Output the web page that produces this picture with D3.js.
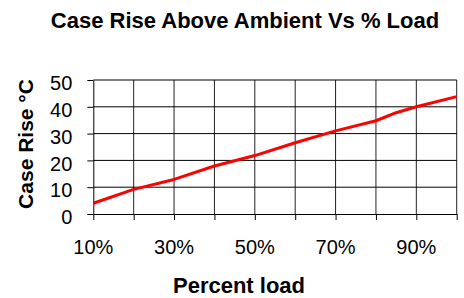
<!DOCTYPE html>
<html>
<head>
<meta charset="utf-8">
<script src="https://cdn.jsdelivr.net/npm/d3@7"></script>
<style>
  body { margin: 0; background: #fff; }
  svg { font-family: "Liberation Sans", Arial, sans-serif; }
</style>
</head>
<body>
<div id="chart"></div>
<script>
// percent load vs case rise above ambient
const loads = [10, 20, 30, 40, 50, 60, 70, 80, 85, 90, 100];
const caseRise = [4.0, 9.2, 12.9, 17.9, 21.8, 26.6, 31.0, 34.8, 37.8, 40.0, 43.8];
const xTicks = [10, 20, 30, 40, 50, 60, 70, 80, 90, 100];
const xLabels = [10, 30, 50, 70, 90];
const yTicks = [0, 10, 20, 30, 40, 50];

const width = 464, height = 298;
const margin = {top: 80, right: 7.3, bottom: 84, left: 93.3};

const svg = d3.select("#chart").append("svg")
  .attr("width", width)
  .attr("height", height);

const x = d3.scaleLinear().domain([10, 100]).range([margin.left, width - margin.right]);
const y = d3.scaleLinear().domain([0, 50]).range([height - margin.bottom, margin.top]);

// grid lines
svg.append("g")
  .selectAll("line")
  .data(xTicks.slice(1))
  .join("line")
    .attr("x1", d => x(d)).attr("x2", d => x(d))
    .attr("y1", y(0)).attr("y2", y(50))
    .attr("stroke", "#222").attr("stroke-width", 1);

svg.append("g")
  .selectAll("line")
  .data(yTicks.slice(1))
  .join("line")
    .attr("x1", x(10)).attr("x2", x(100))
    .attr("y1", d => y(d)).attr("y2", d => y(d))
    .attr("stroke", "#000").attr("stroke-width", 1);

// x axis
const xAxis = svg.append("g")
  .attr("transform", `translate(0,${y(0)})`)
  .call(d3.axisBottom(x).tickValues(xTicks).tickSize(6).tickSizeOuter(0).tickFormat(""));
xAxis.select(".domain").attr("stroke", "#000");

svg.append("g")
  .selectAll("text")
  .data(xLabels)
  .join("text")
    .attr("x", d => x(d))
    .attr("y", 254)
    .attr("text-anchor", "middle")
    .attr("font-size", 20)
    .text(d => d + "%");

// y axis
const yAxis = svg.append("g")
  .attr("transform", `translate(${x(10)},0)`)
  .call(d3.axisLeft(y).tickValues(yTicks).tickSize(6).tickSizeOuter(0).tickPadding(15));
yAxis.select(".domain").attr("stroke", "#000");
yAxis.selectAll(".tick text")
  .attr("font-size", 20)
  .attr("font-family", "Liberation Sans, Arial, sans-serif")
  .attr("fill", "#000")
  .attr("dy", "0.48em");

// data line
const line = d3.line()
  .x((d, i) => x(loads[i]))
  .y(d => y(d));

svg.append("path")
  .attr("d", line(caseRise))
  .attr("fill", "none")
  .attr("stroke", "#ff0000")
  .attr("stroke-width", 3)
  .attr("stroke-linejoin", "round");

// titles
svg.append("text")
  .attr("x", 245)
  .attr("y", 28)
  .attr("text-anchor", "middle")
  .attr("font-size", 22)
  .attr("font-weight", "bold")
  .text("Case Rise Above Ambient Vs % Load");

svg.append("text")
  .attr("x", 239)
  .attr("y", 293)
  .attr("text-anchor", "middle")
  .attr("font-size", 22)
  .attr("font-weight", "bold")
  .text("Percent load");

svg.append("text")
  .attr("transform", `translate(33,144) rotate(-90)`)
  .attr("text-anchor", "middle")
  .attr("font-size", 21)
  .attr("font-weight", "bold")
  .text("Case Rise °C");
</script>
</body>
</html>
